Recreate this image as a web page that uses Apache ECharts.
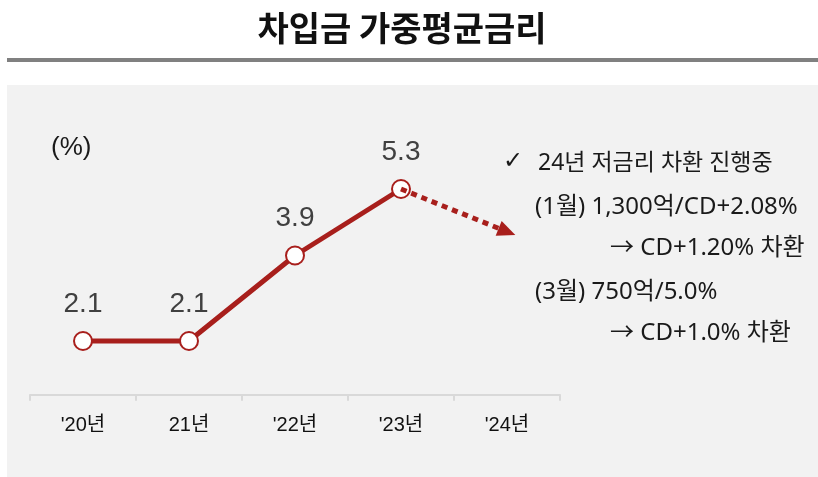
<!DOCTYPE html>
<html>
<head>
<meta charset="utf-8">
<script src="https://cdn.jsdelivr.net/npm/echarts@6/dist/echarts.min.js"></script>
<style>
html,body{margin:0;padding:0;background:#fff;}
#c{width:818px;height:477px;}
</style>
</head>
<body>
<div id="c"></div>
<script>
const categories = ["'20년", "21년", "'22년", "'23년", "'24년"];
const rates = [2.1, 2.1, 3.9, 5.3, null];
const projectedFrom = ["'23년", 5.3];
const projectedTo = ["'24년", 4.4];
const noteMark = "✓";
const noteLines = [
  "24년 저금리 차환 진행중",
  "(1월) 1,300억/CD+2.08%",
  "→ CD+1.20% 차환",
  "(3월) 750억/5.0%",
  "→ CD+1.0% 차환"
];

const RED = '#a81f1c';
const chart = echarts.init(document.getElementById('c'), null, {renderer: 'canvas'});
const noteX = [538, 535, 610, 535, 610];
const noteY = [163, 207, 248, 292, 333];
const noteSize = [23, 24, 24, 24, 24];
const cjk = '"Noto Sans CJK KR", "Noto Sans", sans-serif';
const noteFont = '"Noto Sans", "Noto Sans CJK KR", sans-serif';
const latin = '"Liberation Sans", Arial, "Noto Sans CJK KR", sans-serif';

const graphics = [
  {type: 'rect', shape: {x: 7, y: 85, width: 811, height: 392}, style: {fill: '#f2f2f2'}, z: -10},
  {type: 'rect', shape: {x: 7, y: 58, width: 811, height: 4}, style: {fill: '#808080'}, z: -10},
  {type: 'text', x: 402, y: 28, style: {text: '차입금 가중평균금리', font: 'bold 34px ' + cjk, fill: '#111', textAlign: 'center', textVerticalAlign: 'middle'}},
  {type: 'text', x: 51, y: 148, style: {text: '(%)', font: '26px ' + latin, fill: '#1a1a1a', textAlign: 'left', textVerticalAlign: 'middle'}},
  {type: 'text', x: 503, y: 162, style: {text: noteMark, font: '24px "DejaVu Sans", sans-serif', fill: '#1a1a1a', textAlign: 'left', textVerticalAlign: 'middle'}}
];
noteLines.forEach((t, i) => {
  graphics.push({type: 'text', x: noteX[i], y: noteY[i], style: {text: t, font: noteSize[i] + 'px ' + noteFont, fill: '#1a1a1a', textAlign: 'left', textVerticalAlign: 'middle'}});
});

chart.setOption({
  animation: false,
  backgroundColor: 'transparent',
  graphic: graphics,
  grid: {left: 30, right: 258, top: 155.75, bottom: 83.75},
  xAxis: {
    type: 'category',
    data: categories,
    boundaryGap: true,
    offset: 1.5,
    axisLine: {show: true, lineStyle: {color: '#d9d9d9', width: 2}},
    axisTick: {show: true, length: 6, lineStyle: {color: '#d9d9d9', width: 2}},
    axisLabel: {color: '#111', fontSize: 20, fontFamily: latin, margin: 21}
  },
  yAxis: {
    type: 'value', min: 1, max: 6, show: false, splitLine: {show: false}
  },
  series: [
    {
      type: 'line',
      z: 1,
      data: [],
      silent: true,
      markLine: {
        silent: true,
        symbol: ['none', 'triangle'],
        symbolSize: [16, 18],
        label: {show: false},
        lineStyle: {color: RED, width: 5, type: [6, 5], cap: 'butt'},
        itemStyle: {color: RED},
        data: [[{coord: projectedFrom}, {coord: projectedTo}]]
      }
    },
    {
      type: 'line',
      z: 3,
      data: rates,
      symbol: 'circle',
      symbolSize: 18,
      showAllSymbol: true,
      lineStyle: {color: RED, width: 5},
      itemStyle: {color: '#ffffff', borderColor: RED, borderWidth: 2},
      label: {show: true, position: 'top', distance: 13, fontSize: 28, color: '#404040', fontFamily: latin}
    }
  ]
});
</script>
</body>
</html>
